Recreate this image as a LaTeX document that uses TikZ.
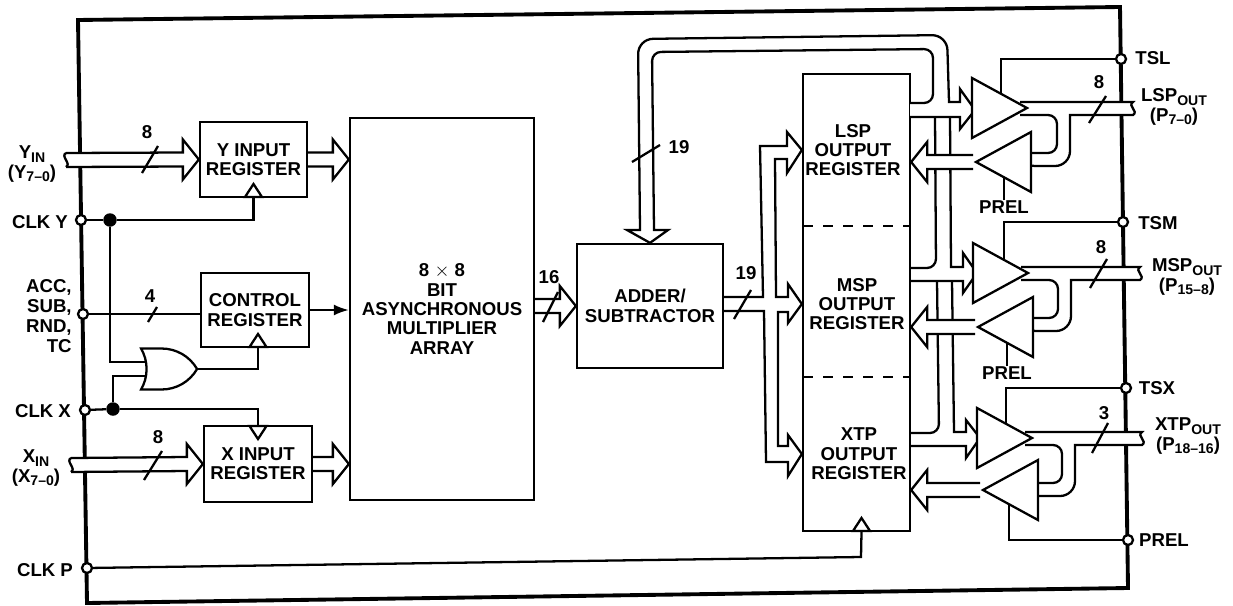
\documentclass[tikz,border=0pt]{standalone}
\usepackage{fontspec}
\setmainfont{Liberation Sans}
\usetikzlibrary{arrows.meta,calc,shapes.geometric,shapes.gates.logic.US}
\newcommand{\figfont}{\fontsize{10.6}{11}\selectfont\bfseries}
\newcommand{\lowtext}[1]{\raisebox{-2pt}{\fontsize{8}{8}\selectfont #1}}
\newcommand{\busarrow}[3]{\draw[busline] ($(#1)+(0,-7)$) -- ($(#2)+(-16*#3,-7)$) -- ($(#2)+(-16*#3,-20)$) -- (#2) -- ($(#2)+(-16*#3,20)$) -- ($(#2)+(-16*#3,7)$) -- ($(#1)+(0,7)$);}
\newcommand{\outbus}[2]{\draw[busline] ([shift={(-10,-6)}]#1) -- ++(#2,0) .. controls +(-6,4) and +(6,-4) .. ++(0,13) -- ++(-#2+50,0) [rounded corners=.3cm] -- ++(0,51) -- ++(-50,0) [sharp corners] -- ++(0,-13) [rounded corners=.18cm] -- ++(37,0) -- ++(0,-38) [sharp corners] -- ++(-37,0);}
\newcommand{\leftend}[1]{\draw[wire] ($(#1)+(0,-7)$) .. controls +(-6,3) and +(6,-3) .. ($(#1)+(0,7)$);}
\tikzset{
	wire/.style={line width=1.3pt},
	busline/.style={line width=1.3pt,fill=white,line join=miter},
	frameline/.style={line width=2.2pt},
	regbox/.style={draw,line width=1.3pt,inner sep=0pt,align=center,font=\figfont},
	lbl/.style={inner sep=0pt,align=center,font=\figfont},
	pin/.style={circle,draw,fill=white,line width=1.3pt,inner sep=0pt,minimum size=.2cm},
	joindot/.style={circle,fill=black,inner sep=0pt,minimum size=.27cm},
	bufout/.style={isosceles triangle,draw,fill=white,line width=1.3pt,inner sep=0pt,isosceles triangle stretches,minimum width=1.2cm,minimum height=1.1cm},
	clkmark/.style={isosceles triangle,draw,fill=white,line width=1.3pt,inner sep=0pt,isosceles triangle stretches,minimum width=.34cm,minimum height=.26cm}
}
\begin{document}
\begin{tikzpicture}[x=0.02cm,y=-0.02cm]
	\useasboundingbox (0,0) rectangle (1233,605);
	\draw[frameline] (78,20) to (1120,7) to (1128,588) to (87,603) -- cycle;
	\node[regbox,minimum width=2.14cm,minimum height=1.5cm] (yreg) at (253.5,159.5) {Y INPUT\\REGISTER};
	\node[regbox,minimum width=2.16cm,minimum height=1.48cm] (ctlreg) at (255,310) {CONTROL\\REGISTER};
	\node[regbox,minimum width=2.16cm,minimum height=1.52cm] (xreg) at (258,464) {X INPUT\\REGISTER};
	\node[regbox,minimum width=3.68cm,minimum height=7.64cm] (mult) at (442,309) {8 $\times$ 8\\BIT\\ASYNCHRONOUS\\MULTIPLIER\\ARRAY};
	\node[regbox,minimum width=2.92cm,minimum height=2.48cm] (adder) at (650,306) {ADDER/\\SUBTRACTOR};
	\node[regbox,minimum width=2.14cm,minimum height=9.14cm] (outreg) at (856.5,302.5) {};
	\node[lbl] (lsplbl) at (853,150) {LSP\\OUTPUT\\REGISTER};
	\node[lbl] (msplbl) at (857,304) {MSP\\OUTPUT\\REGISTER};
	\node[lbl] (xtplbl) at (859,454) {XTP\\OUTPUT\\REGISTER};
	\draw[wire,dash pattern=on 5.7pt off 5.7pt] (803,226) to (910,226);
	\draw[wire,dash pattern=on 5.7pt off 5.7pt] (803,377) to (910,377);
	\coordinate (lsptip) at (1030,108);
	\coordinate (msptip) at (1031,273);
	\coordinate (xtptip) at (1035,438);
	\coordinate (lspback) at (973,162);
	\coordinate (mspback) at (975,327);
	\coordinate (xtpback) at (980,490);
	\coordinate (pcorner) at (861,557);
	\coordinate (yin) at (66,160);
	\coordinate (xin) at (71,465);
	\node[pin] (clky) at (81,220) {};
	\node[pin] (acc) at (83,314) {};
	\node[pin] (clkx) at (85,410) {};
	\node[pin] (clkp) at (87,568) {};
	\node[pin] (tsl) at (1121,59) {};
	\node[pin] (tsm) at (1123,222) {};
	\node[pin] (tsx) at (1126,388) {};
	\node[pin] (prel) at (1128,540) {};
	\node[joindot] (ydot) at (110,220) {};
	\node[joindot] (xdot) at (113,409) {};
	\node[or gate US,draw,logic gate inputs=nn,line width=1.3pt,inner sep=0pt,minimum width=1.12cm,minimum height=.76cm] (orgate) at (165,369) {};
	\node[clkmark,shape border rotate=90,anchor=lower side] (yclk) at (yreg.south) {};
	\node[clkmark,shape border rotate=90,anchor=lower side] (ctlclk) at ([shift={(3,0)}]ctlreg.south) {};
	\node[clkmark,shape border rotate=270,anchor=lower side] (xclk) at (xreg.north) {};
	\node[clkmark,shape border rotate=90,anchor=lower side] (pclk) at ([shift={(5,0)}]outreg.south) {};
	\node[lbl] (pbot) at (1004,207) {PREL};
	\node[lbl] (pmid) at (1007,373) {PREL};
	\draw[wire] (clky) to (ydot);
	\draw[wire] (ydot) -| (yclk.lower side);
	\draw[wire] (ydot) |- (orgate.input 1);
	\draw[wire] (clkx) to (xdot);
	\draw[wire] (xdot) |- (orgate.input 2);
	\draw[wire] (xdot) -| (xclk.lower side);
	\draw[wire] (orgate.output) -| (ctlclk.lower side);
	\draw[wire] (acc) to (acc -| ctlreg.west);
	\draw[wire,-{Latex[length=.3cm,width=.22cm]}] (ctlreg.east) to (ctlreg.east -| mult.west);
	\draw[wire] (clkp) to (pcorner) to (pclk.lower side);
	\draw[wire] (tsl) -| ([shift={(-29,0)}]lsptip);
	\draw[wire] (tsm) -| ([shift={(-27,0)}]msptip);
	\draw[wire] (tsx) -| ([shift={(-29,0)}]xtptip);
	\draw[wire] (prel) -| ([shift={(29,0)}]xtpback);
	\draw[wire] (pbot.north) to ++(0,-25);
	\draw[wire] (pmid.north) to ++(0,-25);
	\busarrow{yin}{yreg.west}{1}
	\leftend{yin}
	\busarrow{xin}{xreg.west}{1}
	\leftend{xin}
	\busarrow{yreg.east}{yreg.east -| mult.west}{1}
	\busarrow{xreg.east}{xreg.east -| mult.west}{1}
	\busarrow{adder.west -| mult.east}{adder.west}{1}
	\draw[busline] ([shift={(0,-9)}]adder.east) -- (763,297) -- (760,146) -- (787,146) -- (787,132) -- (outreg.west |- lsplbl) -- (787,173) -- (787,159) -- (775,159) -- (776,297) -- (788,297) -- (788,284) -- (outreg.west |- msplbl) -- (788,323) -- (788,312) -- (778,312) -- (778,446) -- (788,446) -- (788,435) -- (outreg.west |- xtplbl) -- (788,476) -- (788,462) -- (766,462) -- (764,311) -- ([shift={(0,5)}]adder.east);
	\draw[busline] (910,103) [rounded corners=.18cm] -- (933,103) -- (933,49) -- (652,52) [sharp corners] -- (654,230) -- (668,230) -- (adder.north) -- (627,230) -- (640,230) [rounded corners=.3cm] -- (638,39) -- (947,35) [sharp corners] -- (949,102) -- (960,102) -- (960,89) -- (975,110) -- (960,129) -- (960,117) -- (910,117);
	\draw[wire] (910,268) [rounded corners=.18cm] -- (936,268) [sharp corners] -- (935,117);
	\draw[wire] (950,117) -- (951,267) -- (963,267) -- (963,253) -- (977,273) -- (963,293) -- (963,281) -- (910,281);
	\draw[wire] (910,433) [rounded corners=.18cm] -- (939,433) [sharp corners] -- (937,281);
	\draw[wire] (952,281) -- (954,432) -- (966,432) -- (966,420) -- (980,438) -- (966,458) -- (966,446) -- (910,446);
	\busarrow{lspback}{lspback -| outreg.east}{-1}
	\busarrow{mspback}{mspback -| outreg.east}{-1}
	\busarrow{xtpback}{xtpback -| outreg.east}{-1}
	\outbus{lsptip}{113}
	\outbus{msptip}{119}
	\outbus{xtptip}{117}
	\node[bufout,anchor=apex] (lspo) at (lsptip) {};
	\node[bufout,anchor=apex] (mspo) at (msptip) {};
	\node[bufout,anchor=apex] (xtpo) at (xtptip) {};
	\node[bufout,shape border rotate=180,anchor=apex] (lspi) at (lspback) {};
	\node[bufout,shape border rotate=180,anchor=apex] (mspi) at (mspback) {};
	\node[bufout,shape border rotate=180,anchor=apex] (xtpi) at (xtpback) {};
	\draw[wire] (142,173) to (158,146);
	\draw[wire] (148,322) to (157,307);
	\draw[wire] (144,480) to (162,451);
	\draw[wire] (543,322) to (558,292);
	\draw[wire] (734,319) to (751,290);
	\draw[wire] (632,162) to (660,145);
	\draw[wire] (1089,123) to (1106,96);
	\draw[wire] (1090,288) to (1107,259);
	\draw[wire] (1092,453) to (1108,423);
	\node[lbl] (ywidth) at (147,132) {8};
	\node[lbl] (ctlwidth) at (150,296) {4};
	\node[lbl] (xwidth) at (158,437) {8};
	\node[lbl] (multwidth) at (549,277) {16};
	\node[lbl] (addwidth) at (746,273) {19};
	\node[lbl] (fbwidth) at (679,147) {19};
	\node[lbl] (lspwidth) at (1099,82) {8};
	\node[lbl] (mspwidth) at (1101,247) {8};
	\node[lbl] (xtpwidth) at (1104,413) {3};
	\node[lbl] (yinlbl) at (32,164) {Y\lowtext{IN}\\(Y\lowtext{7--0})};
	\node[lbl] (xinlbl) at (36,468) {X\lowtext{IN}\\(X\lowtext{7--0})};
	\node[lbl] (clkylbl) at (40,222) {CLK Y};
	\node[lbl] (clkxlbl) at (43,411) {CLK X};
	\node[lbl] (clkplbl) at (45,570) {CLK P};
	\node[lbl,align=right,anchor=east,font=\fontsize{10.6}{11.4}\selectfont\bfseries] (acclbl) at (72,316) {ACC,\\SUB,\\RND,\\TC};
	\node[lbl] (tsllbl) at (1153,58) {TSL};
	\node[lbl] (tsmlbl) at (1158,223) {TSM};
	\node[lbl] (tsxlbl) at (1157,388) {TSX};
	\node[lbl] (prellbl) at (1164,540) {PREL};
	\node[lbl] (lsplabel) at (1174,107) {LSP\lowtext{OUT}\\(P\lowtext{7--0})};
	\node[lbl] (msplabel) at (1187,277) {MSP\lowtext{OUT}\\(P\lowtext{15--8})};
	\node[lbl] (xtplabel) at (1188,436) {XTP\lowtext{OUT}\\(P\lowtext{18--16})};
\end{tikzpicture}
\end{document}
